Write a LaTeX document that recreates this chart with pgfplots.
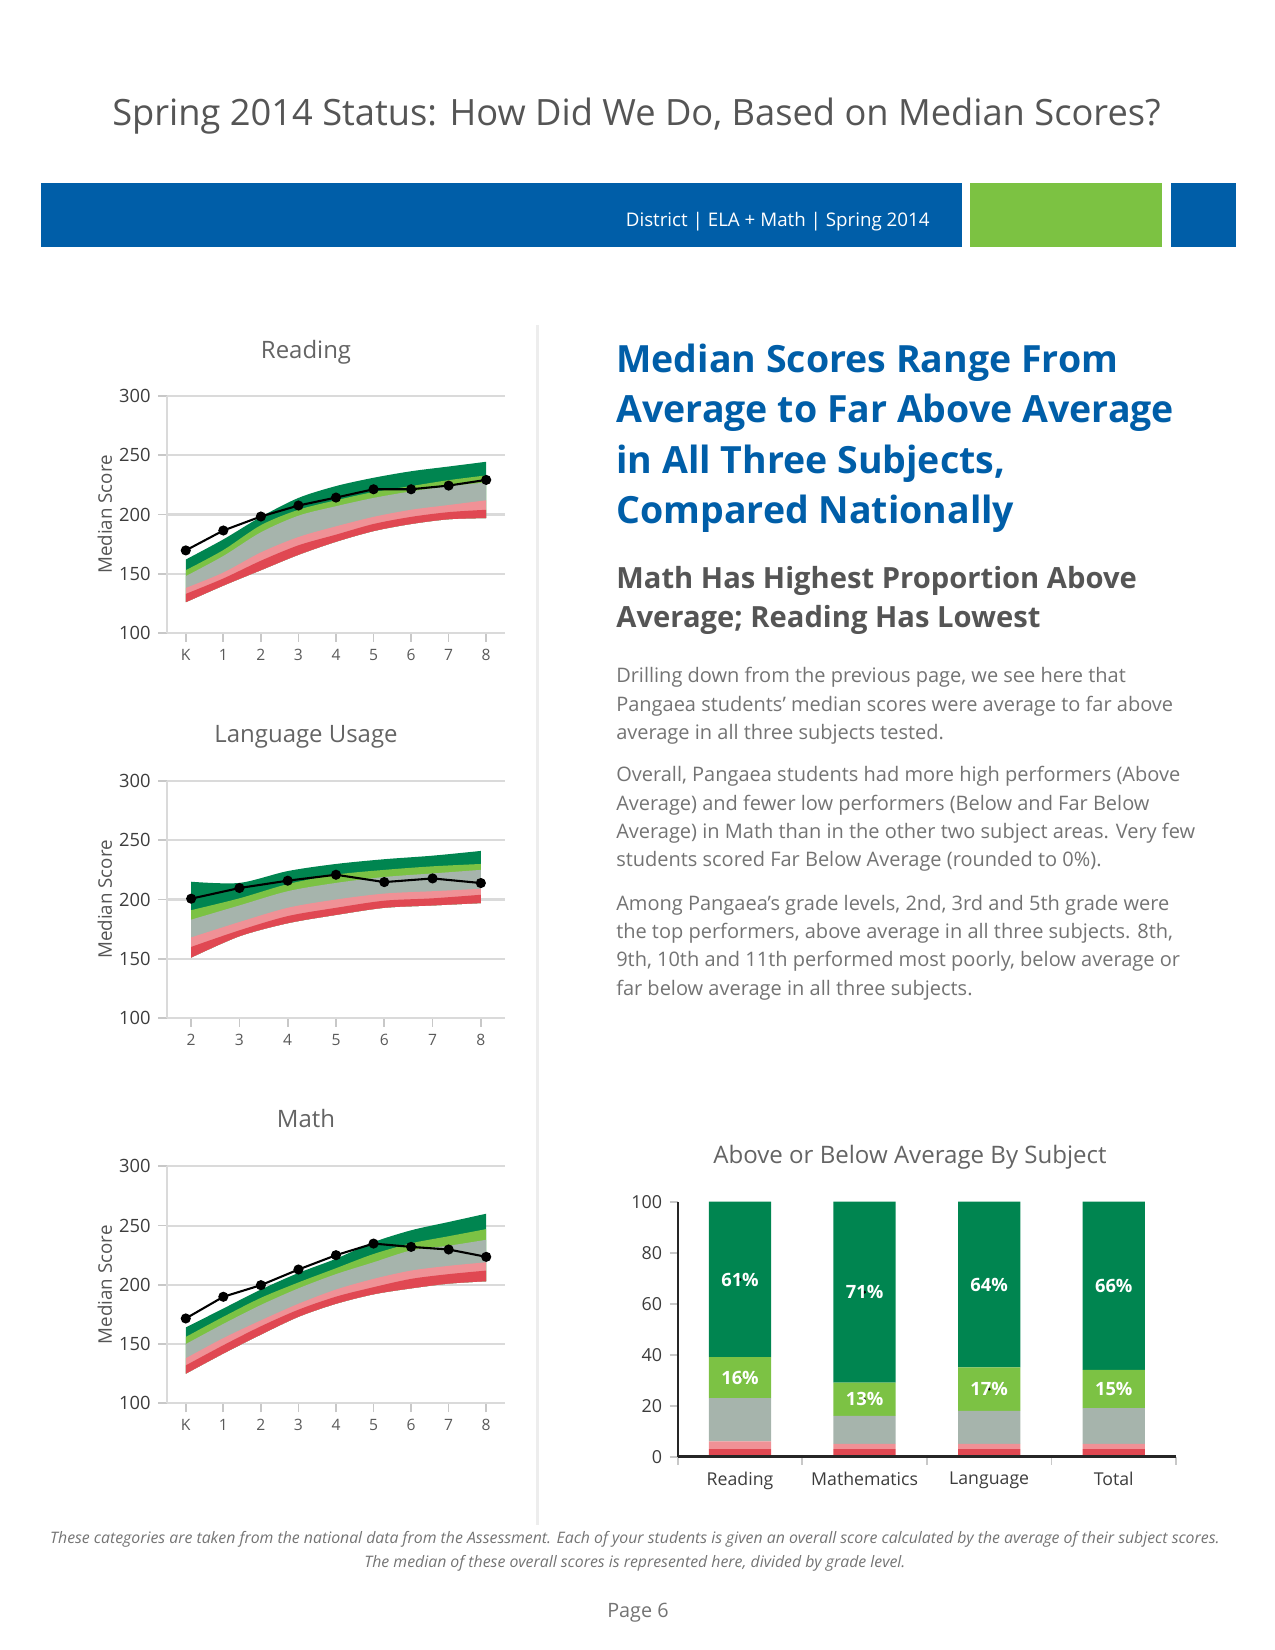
\documentclass[border=0pt]{standalone}
\usepackage{fontspec}
\setmainfont{Open Sans}
\usepackage{pgfplots}
\pgfplotsset{compat=1.18}
\usepackage{pgfplotstable}
\usepgfplotslibrary{fillbetween}

\definecolor{cdg}{RGB}{0,133,80}
\definecolor{clg}{RGB}{124,194,68}
\definecolor{cgr}{RGB}{166,180,172}
\definecolor{cpk}{RGB}{240,145,150}
\definecolor{crd}{RGB}{224,72,82}
\definecolor{cblue}{RGB}{0,94,168}
\definecolor{cgreen}{RGB}{124,194,66}
\definecolor{gridc}{RGB}{218,218,218}
\definecolor{tickc}{RGB}{200,200,200}
\definecolor{ytc}{RGB}{60,60,60}
\definecolor{xtc}{RGB}{90,90,90}
\definecolor{titc}{RGB}{100,100,100}
\definecolor{subc}{RGB}{85,85,85}
\definecolor{bodyc}{RGB}{115,115,115}

% national bands (b0 bottom ... b5 top) and district median, by grade
\pgfplotstableread{
x b0 b1 b2 b3 b4 b5 med
0 126 133 138 148 153 162 169.7
1 140 146 151 165 170 179 186.5
2 153 161 168 185 191 198 198.3
3 166 174 181 199 204 214 207.6
4 177 183 190 207 212 224 214.3
5 186 192 198 214 219 231 221.3
6 192 198 204 219.5 224 236.5 221.3
7 196 202 208 224 229 240.5 224.4
8 197 204 212 227 233 244.5 229.2
}\readtab

\pgfplotstableread{
x b0 b1 b2 b3 b4 b5 med
2 151 160 168 183 191 215 200.7
3 169 174 181 195 201 214 209.7
4 180 186 193 207 213 224 215.9
5 187 193 200 214 221 230 220.9
6 193 199 205 219 225 234 214.7
7 195 201 207 222 228 237 217.8
8 197 204 209 225 230 241 213.9
}\langtab

\pgfplotstableread{
x b0 b1 b2 b3 b4 b5 med
0 125 132 138 150 156 164 171.6
1 142 149 155 167 173 180 189.9
2 158 165 170 183 189 196 199.7
3 173 179 184 197 202 210 212.9
4 184 190 196 209 214 222 225.0
5 192 198 205 219 226 236 234.8
6 197 205 212 229 235 246 232.0
7 201 209 216 233 241 253 229.8
8 203 212 219 238 247 260 223.6
}\mathtab

\pgfplotsset{
  bandaxis/.style={
    scale only axis, width=162.24pt, height=113.76pt,
    anchor=south west,
    ymin=100, ymax=300, ytick={100,150,200,250,300},
    axis lines=left,
    axis line style={-, draw=gridc, line width=1pt},
    ymajorgrids, grid style={draw=gridc, line width=1pt},
    tick align=outside, major tick length=4.3pt,
    tick style={draw=tickc, line width=0.8pt},
    yticklabel style={font=\fontsize{8.8}{10}\selectfont, text=ytc},
    xticklabel style={font=\fontsize{7.5}{9}\selectfont, text=xtc},
    /pgf/number format/assume math mode=true,
    ylabel={Median Score},
    every axis y label/.style={at={(axis description cs:-0.1837,0.5)},
      rotate=90, anchor=center, font=\fontsize{9}{11}\selectfont, text=subc},
  },
  bound/.style={draw=none, smooth, forget plot},
  medline/.style={black, line width=1pt, mark=*, mark size=1.9pt,
    mark options={fill=black}},
}

% the five bands and the median line of one table
\newcommand\bands[1]{%
  \addplot[bound, name path=p0] table[x=x,y=b0]{#1};
  \addplot[bound, name path=p1] table[x=x,y=b1]{#1};
  \addplot[bound, name path=p2] table[x=x,y=b2]{#1};
  \addplot[bound, name path=p3] table[x=x,y=b3]{#1};
  \addplot[bound, name path=p4] table[x=x,y=b4]{#1};
  \addplot[bound, name path=p5] table[x=x,y=b5]{#1};
  \addplot[fill=cdg, draw=none] fill between[of=p0 and p5];
  \addplot[fill=clg, draw=none] fill between[of=p0 and p4];
  \addplot[fill=cgr, draw=none] fill between[of=p0 and p3];
  \addplot[fill=cpk, draw=none] fill between[of=p0 and p2];
  \addplot[fill=crd, draw=none] fill between[of=p0 and p1];
  \addplot[medline] table[x=x,y=med]{#1};
}

\newcommand\headl[2]{\node[anchor=base west, inner sep=0, text=cblue,
  font=\bfseries\fontsize{18}{21}\selectfont] at (295.7pt,#1) {#2};}
\newcommand\subl[2]{\node[anchor=base west, inner sep=0, text=subc,
  font=\bfseries\fontsize{14}{16}\selectfont] at (295.7pt,#1) {#2};}
\newcommand\bodyl[2]{\node[anchor=base west, inner sep=0, text=bodyc,
  font=\fontsize{9.6}{11}\selectfont] at (295.6pt,#1) {#2};}

\begin{document}
\begin{tikzpicture}
\path (0,0) rectangle (612pt,-792pt);

% page title and header bar
\node[anchor=base, inner sep=0, text=subc, font=\fontsize{17.4}{20}\selectfont]
  at (305.5pt,-60pt) {Spring 2014 Status: How Did We Do, Based on Median Scores?};
\fill[cblue] (19.68pt,-87.84pt) rectangle (461.76pt,-118.56pt);
\fill[cgreen] (465.6pt,-87.84pt) rectangle (557.76pt,-118.56pt);
\fill[cblue] (562.08pt,-87.84pt) rectangle (593.3pt,-118.56pt);
\node[anchor=base east, inner sep=0, text=white, font=\fontsize{9}{10}\selectfont]
  at (446.4pt,-108.5pt) {District | ELA + Math | Spring 2014};

% divider
\draw[line width=1.4pt, draw=black!7] (257.8pt,-156pt) -- (257.8pt,-732pt);

% chart titles
\node[anchor=base, inner sep=0, text=titc, font=\fontsize{11.5}{14}\selectfont]
  at (146.9pt,-172pt) {Reading};
\node[anchor=base, inner sep=0, text=titc, font=\fontsize{11.5}{14}\selectfont]
  at (146.9pt,-356.5pt) {Language Usage};
\node[anchor=base, inner sep=0, text=titc, font=\fontsize{11.5}{14}\selectfont]
  at (146.9pt,-541.3pt) {Math};
\node[anchor=base, inner sep=0, text=titc, font=\fontsize{11.55}{14}\selectfont]
  at (436.8pt,-558.4pt) {Above or Below Average By Subject};

% Reading
\begin{axis}[bandaxis, at={(80.16pt,-303.84pt)},
  xmin=-0.5, xmax=8.5, xtick={0,...,8}, xticklabels={K,1,2,3,4,5,6,7,8}]
\bands{\readtab}
\end{axis}

% Language Usage
\begin{axis}[bandaxis, at={(80.16pt,-488.64pt)},
  xmin=1.5, xmax=8.5, xtick={2,...,8}]
\bands{\langtab}
\end{axis}

% Math
\begin{axis}[bandaxis, at={(80.16pt,-673.58pt)},
  xmin=-0.5, xmax=8.5, xtick={0,...,8}, xticklabels={K,1,2,3,4,5,6,7,8}]
\bands{\mathtab}
\end{axis}

% Above or below average by subject
\begin{axis}[at={(325.3pt,-699.2pt)}, anchor=south west,
  scale only axis, width=239.2pt, height=122.4pt,
  ybar stacked, bar width=0.5,
  xmin=-0.5, xmax=3.5, ymin=0, ymax=100,
  ytick={0,20,...,100},
  xtick={-0.5,0.5,1.5,2.5,3.5},
  xticklabels={Reading,Mathematics,Language,Total,},
  xticklabel style={xshift=29.9pt, font=\fontsize{8.5}{10}\selectfont, text=ytc},
  yticklabel style={font=\fontsize{8.6}{10}\selectfont, text=ytc},
  axis lines=left, axis on top,
  x axis line style={-, draw=black!85, line width=1.4pt},
  y axis line style={-, draw=black!85, line width=0.9pt},
  tick align=outside, major tick length=3.9pt,
  tick style={draw=tickc, line width=0.8pt},
  /pgf/number format/assume math mode=true]
\addplot[fill=crd, draw=none] coordinates {(0,3) (1,3) (2,3) (3,3)};
\addplot[fill=cpk, draw=none] coordinates {(0,3) (1,2) (2,2) (3,2)};
\addplot[fill=cgr, draw=none] coordinates {(0,17) (1,11) (2,13) (3,14)};
\addplot[fill=clg, draw=none] coordinates {(0,16) (1,13) (2,17) (3,15)};
\addplot[fill=cdg, draw=none] coordinates {(0,61) (1,71) (2,65) (3,66)};
\end{axis}
\begin{axis}[at={(325.3pt,-699.2pt)}, anchor=south west,
  scale only axis, width=239.2pt, height=122.4pt,
  axis lines=none, ticks=none,
  xmin=-0.5, xmax=3.5, ymin=0, ymax=100,
  point meta=explicit symbolic, nodes near coords={\pgfplotspointmeta\%},
  every node near coord/.append style={anchor=center, text=white,
    font=\bfseries\fontsize{8.8}{10}\selectfont}]
\addplot[only marks, mark=*, mark size=0.5pt, mark options={draw=none, fill=none}]
  coordinates {(0,69.5)[61] (1,64.5)[71] (2,67.5)[64] (3,67)[66]
  (0,31)[16] (1,22.5)[13] (2,26.5)[17] (3,26.5)[15]};
\end{axis}

% right column text
\headl{-178.56pt}{Median Scores Range From}
\headl{-202.8pt}{Average to Far Above Average}
\headl{-227.04pt}{in All Three Subjects,}
\headl{-251.28pt}{Compared Nationally}
\subl{-282.24pt}{Math Has Highest Proportion Above}
\subl{-300.96pt}{Average; Reading Has Lowest}
\bodyl{-327.7pt}{Drilling down from the previous page, we see here that}
\bodyl{-341.28pt}{Pangaea students' median scores were average to far above}
\bodyl{-354.86pt}{average in all three subjects tested.}
\bodyl{-375.2pt}{Overall, Pangaea students had more high performers (Above}
\bodyl{-388.8pt}{Average) and fewer low performers (Below and Far Below}
\bodyl{-402.4pt}{Average) in Math than in the other two subject areas. Very few}
\bodyl{-416.0pt}{students scored Far Below Average (rounded to 0\%).}
\bodyl{-436.8pt}{Among Pangaea’s grade levels, 2nd, 3rd and 5th grade were}
\bodyl{-450.4pt}{the top performers, above average in all three subjects. 8th,}
\bodyl{-464.0pt}{9th, 10th and 11th performed most poorly, below average or}
\bodyl{-477.6pt}{far below average in all three subjects.}

% footer
\node[anchor=base, inner sep=0, text=bodyc, font=\itshape\fontsize{7.6}{9}\selectfont]
  at (304.8pt,-741.1pt) {These categories are taken from the national data from the Assessment. Each of your students is given an overall score calculated by the average of their subject scores.};
\node[anchor=base, inner sep=0, text=bodyc, font=\itshape\fontsize{7.6}{9}\selectfont]
  at (304.8pt,-752.2pt) {The median of these overall scores is represented here, divided by grade level.};
\node[anchor=base, inner sep=0, text=bodyc, font=\fontsize{9.5}{11}\selectfont]
  at (306.2pt,-776.2pt) {Page 6};
\end{tikzpicture}
\end{document}
